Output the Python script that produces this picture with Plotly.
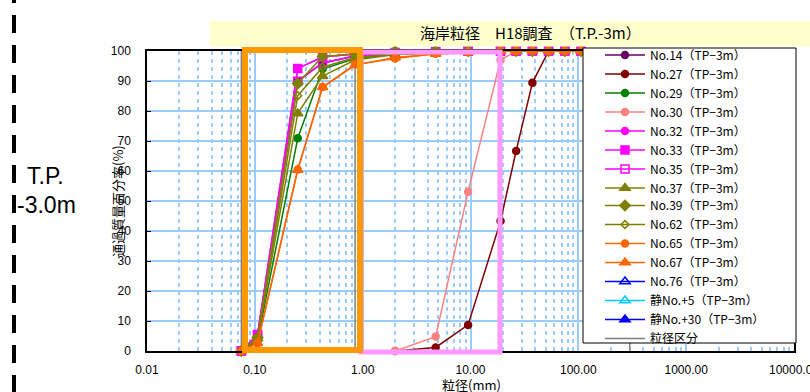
import plotly.graph_objects as go

# ---------------- data ----------------
sieve_fine = [0.075, 0.106, 0.25, 0.425, 0.85, 2, 4.75, 9.5, 19, 26.5, 37.5, 53, 75, 106]
sieve_coarse = [2, 4.75, 9.5, 19, 26.5, 37.5, 53, 75, 106]

no14 = [0, 5.0, 90.0, 96.0, 98.3, 99.2, 99.6, 99.9, 100, 100, 100, 100, 100, 100]
no27 = [0, 1.2, 8.7, 43.3, 66.7, 89.4, 100, 100, 100]
no29 = [0, 3.5, 70.9, 94.0, 97.5, 98.8, 99.4, 99.8, 100, 100, 100, 100, 100, 100]
no30 = [0, 4.8, 53.1, 97.0, 100, 100, 100, 100, 100]
no32 = [0, 5.5, 94.2, 98.0, 99.0, 99.5, 99.8, 100, 100, 100, 100, 100, 100, 100]
no33 = [0, 5.5, 94.2, 98.0, 99.0, 99.5, 99.8, 100, 100, 100, 100, 100, 100, 100]
no35 = [0, 5.3, 89.9, 96.0, 98.3, 99.2, 99.6, 99.9, 100, 100, 100, 100, 100, 100]
no37 = [0, 4.2, 79.2, 91.6, 97.0, 98.8, 99.4, 99.8, 100, 100, 100, 100, 100, 100]
no39 = [0, 4.5, 89.2, 98.2, 99.0, 99.9, 100, 100, 100, 100, 100, 100, 100, 100]
no62 = [0, 4.0, 85.1, 94.6, 97.8, 99.0, 99.5, 99.8, 100, 100, 100, 100, 100, 100]
no65 = [0, 2.6, 60.5, 88.0, 95.5, 97.5, 99.1, 99.6, 100, 100, 100, 100, 100, 100]
no67 = [0, 2.6, 60.3, 87.9, 95.3, 97.8, 99.0, 99.6, 100, 100, 100, 100, 100, 100]

class_x = [0.075, 0.075, None, 0.85, 0.85, None, 19, 19, None, 300, 300]
class_y = [0, 100, None, 0, 100, None, 0, 100, None, 0, 100]

xtick_vals = [0.01, 0.1, 1, 10, 100, 1000, 10000]
xtick_text = ["0.01", "0.10", "1.00", "10.00", "100.00", "1000.00", "10000.00"]
ytick_vals = [0, 10, 20, 30, 40, 50, 60, 70, 80, 90, 100]

title_text = "海岸粒径　H18調査　（T.P.-3m）"
xtitle = "粒径(mm)"
ytitle = "通過質量百分率(%)"

# ---------------- layout geometry ----------------
W, H = 810, 392
L, R, T, B = 147, 794, 51, 351


def px(xp):
    return (xp - L) / (R - L)


def py(yp):
    return (B - yp) / (B - T)


JP = "Noto Sans CJK JP"
AR = "Liberation Sans, Arial"

fig = go.Figure()

series = [
    ("No.14（TP−3m）", sieve_fine, no14, "#660066", "circle", 7),
    ("No.27（TP−3m）", sieve_coarse, no27, "#800000", "circle", 7),
    ("No.29（TP−3m）", sieve_fine, no29, "#008000", "circle", 7),
    ("No.30（TP−3m）", sieve_coarse, no30, "#FF8080", "circle", 7),
    ("No.32（TP−3m）", sieve_fine, no32, "#FF00FF", "circle", 7),
    ("No.33（TP−3m）", sieve_fine, no33, "#FF00FF", "square", 8),
    ("No.35（TP−3m）", sieve_fine, no35, "#FF00FF", "square-open", 8),
    ("No.37（TP−3m）", sieve_fine, no37, "#808000", "triangle-up", 9),
    ("No.39（TP−3m）", sieve_fine, no39, "#808000", "diamond", 8),
    ("No.62（TP−3m）", sieve_fine, no62, "#808000", "diamond-open", 6),
    ("No.65（TP−3m）", sieve_fine, no65, "#FF6600", "circle", 7),
    ("No.67（TP−3m）", sieve_fine, no67, "#FF6600", "triangle-up", 9),
    ("No.76（TP−3m）", [None], [None], "#0000FF", "triangle-up-open", 9),
    ("静No.+5（TP−3m）", [None], [None], "#00CCFF", "triangle-up-open", 9),
    ("静No.+30（TP−3m）", [None], [None], "#0000FF", "triangle-up", 9),
]

fig.add_trace(go.Scatter(x=class_x, y=class_y, mode="lines", name="粒径区分",
                         line=dict(color="#808080", width=1.5), legendrank=1000,
                         legend="legend2"))

for i, (name, xs, ys, col, sym, sz) in enumerate(series):
    fig.add_trace(go.Scatter(
        x=xs, y=ys, mode="lines+markers", name=name, legendrank=i + 1,
        legend="legend" if i < 8 else "legend2",
        line=dict(color=col, width=1.5),
        marker=dict(symbol=sym, size=sz, color=col,
                    line=dict(color=col, width=1.5)),
        cliponaxis=False))

minor_vals = []
for d in [0.01, 0.1, 1, 10, 100, 1000]:
    for m in range(2, 10):
        minor_vals.append(d * m)

shapes = [
    # title band
    dict(type="rect", xref="paper", yref="paper", x0=px(210), x1=px(812),
         y0=py(46.5), y1=py(21), fillcolor="#FFFFCC", line=dict(width=0), layer="above"),
    # legend box
    dict(type="rect", xref="paper", yref="paper", x0=px(583), x1=px(796),
         y0=py(343), y1=py(48), fillcolor="white", line=dict(color="black", width=1), layer="above"),
    # pink frame
    dict(type="rect", xref="paper", yref="paper", x0=px(361), x1=px(500),
         y0=py(352), y1=py(52), line=dict(color="#FF99FF", width=5), layer="above"),
    # orange frame
    dict(type="rect", xref="paper", yref="paper", x0=px(245), x1=px(360),
         y0=py(350), y1=py(50), line=dict(color="#FF9900", width=6), layer="above"),
    # left dashed line
    dict(type="line", xref="paper", yref="paper", x0=px(14), x1=px(14),
         y0=py(-15), y1=py(400), line=dict(color="black", width=4, dash="18px,12px"), layer="above"),
]

annotations = [
    dict(text=title_text, xref="paper", yref="paper", x=px(530), y=py(33),
         showarrow=False, font=dict(family=JP, size=15, color="black"),
         xanchor="center", yanchor="middle"),
    dict(text=ytitle, xref="paper", yref="paper", x=px(117), y=py(201),
         showarrow=False, textangle=-90, font=dict(family=JP, size=13, color="black"),
         xanchor="center", yanchor="middle"),
    dict(text="T.P.", xref="paper", yref="paper", x=px(45), y=py(176),
         showarrow=False, font=dict(family=AR, size=23, color="black"),
         xanchor="center", yanchor="middle"),
    dict(text="-3.0m", xref="paper", yref="paper", x=px(46), y=py(205),
         showarrow=False, font=dict(family=AR, size=23, color="black"),
         xanchor="center", yanchor="middle"),
    dict(text=xtitle, xref="paper", yref="paper", x=px(471), y=py(384.5),
         showarrow=False, font=dict(family=JP, size=13, color="black"),
         xanchor="center", yanchor="middle"),
]

leg_common = dict(xanchor="left", yanchor="top", bgcolor="rgba(0,0,0,0)", borderwidth=0,
                  font=dict(family=JP, size=12, color="black"),
                  traceorder="normal", itemwidth=40, maxheight=400)

fig.update_layout(
    width=W, height=H,
    margin=dict(l=L, r=W - R, t=T, b=H - B, pad=0, autoexpand=False),
    paper_bgcolor="white", plot_bgcolor="white",
    shapes=shapes, annotations=annotations,
    showlegend=True,
    legend=dict(x=px(600), y=py(40.5), **leg_common),
    legend2=dict(x=px(600), y=py(191), **leg_common),
    xaxis=dict(type="log", range=[-2, 4], tickvals=xtick_vals, ticktext=xtick_text,
               automargin=False, ticklabeloverflow="allow",
               showgrid=True, gridcolor="#99CCFF", gridwidth=1.5,
               minor=dict(tickvals=minor_vals, showgrid=True, gridcolor="#99CCFF",
                          gridwidth=2, griddash="4px,4px"),
               showline=True, linecolor="black", linewidth=1.5, mirror=True,
               ticks="", ticklabelstandoff=7,
               tickfont=dict(family=AR, size=12, color="black"),
               zeroline=False),
    yaxis=dict(range=[0, 100], tickvals=ytick_vals, automargin=False,
               showgrid=True, gridcolor="#99CCFF", gridwidth=1.5,
               showline=True, linecolor="black", linewidth=1.5, mirror=True,
               ticks="inside", ticklen=4, tickcolor="black", ticklabelstandoff=12,
               tickfont=dict(family=AR, size=12, color="black"),
               zeroline=False),
)

fig.write_html("out.html", config=dict(displayModeBar=False),
               post_script="document.body.style.margin='0px';document.body.style.padding='0px';")
